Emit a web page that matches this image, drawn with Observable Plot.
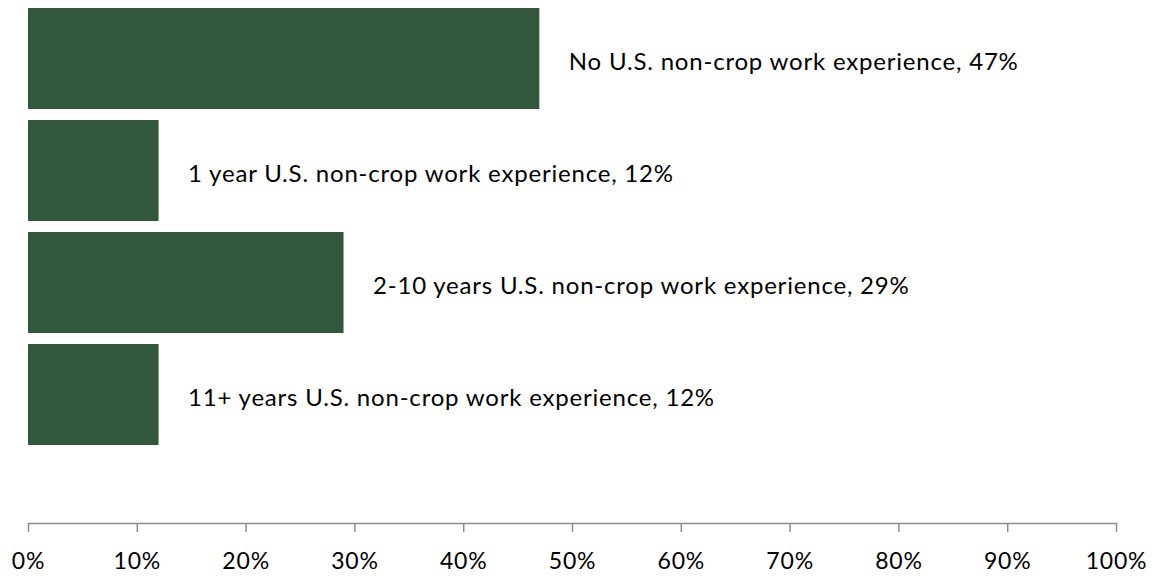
<!DOCTYPE html>
<html>
<head>
<meta charset="utf-8">
<script src="https://cdn.jsdelivr.net/npm/d3@7"></script>
<script src="https://cdn.jsdelivr.net/npm/@observablehq/plot@0.6"></script>
<style>
  html, body { margin: 0; padding: 0; background: #fff; }
  #chart svg { display: block; }
</style>
</head>
<body>
<div id="chart"></div>
<script>
const categories = [
  "No U.S. non-crop work experience",
  "1 year U.S. non-crop work experience",
  "2-10 years U.S. non-crop work experience",
  "11+ years U.S. non-crop work experience"
];
const values = [0.47, 0.12, 0.29, 0.12];
const xTicks = [0, 0.1, 0.2, 0.3, 0.4, 0.5, 0.6, 0.7, 0.8, 0.9, 1.0];

const data = categories.map((c, i) => ({category: c, value: values[i]}));

const chart = Plot.plot({
  width: 1155,
  height: 577,
  marginTop: 0,
  marginBottom: 54,
  marginLeft: 28,
  marginRight: 39,
  style: {fontFamily: "Lato, 'Open Sans', sans-serif", background: "#fff", letterSpacing: "0.8px"},
  x: {domain: [0, 1], ticks: xTicks, label: null},
  y: {domain: categories, range: [6, 447], paddingInner: 0.095, paddingOuter: 0, axis: null},
  marks: [
    Plot.barX(data, {x: "value", y: "category", fill: "#33573d"}),
    Plot.text(data, {
      x: "value", y: "category",
      text: d => `${d.category}, ${Math.round(d.value * 100)}%`,
      textAnchor: "start", dx: 29, dy: 3,
      fontSize: 24, fill: "#000"
    }),
    Plot.frame({anchor: "bottom", stroke: "#8c8c8c", strokeWidth: 1.5}),
    Plot.axisX({
      ticks: xTicks,
      label: null,
      tickFormat: d => `${Math.round(d * 100)}%`,
      tickSize: 9, tickPadding: 20,
      stroke: "#8c8c8c", strokeWidth: 1.5,
      fontSize: 23, fill: "#000", color: "#000"
    })
  ]
});
document.getElementById("chart").appendChild(chart);
</script>
</body>
</html>
